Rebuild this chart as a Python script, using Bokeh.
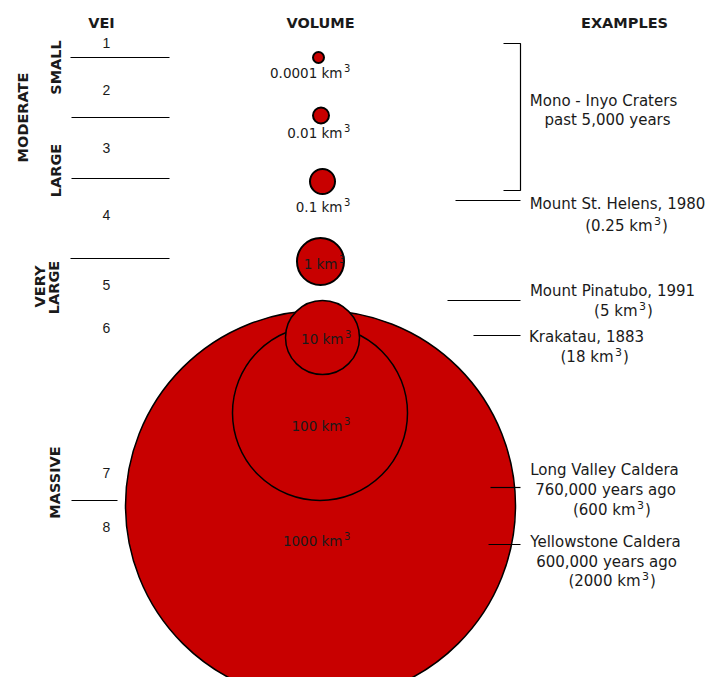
import math
from bokeh.plotting import figure
from bokeh.models import Range1d
from bokeh.core.properties import value
from bokeh.embed import file_html
from bokeh.resources import INLINE

# ---------------- data ----------------
vei_levels = ["1", "2", "3", "4", "5", "6", "7", "8"]
size_classes = ["SMALL", "LARGE", "VERY", "LARGE", "MASSIVE"]
group_label = "MODERATE"
headers = ["VEI", "VOLUME", "EXAMPLES"]

volumes_km3 = [0.0001, 0.01, 0.1, 1, 10, 100, 1000]
volume_text = ["0.0001", "0.01", "0.1", "1", "10", "100", "1000"]

example_lines = [
    ["Mono - Inyo Craters", "past 5,000 years"],
    ["Mount St. Helens, 1980"],
    ["Mount Pinatubo, 1991"],
    ["Krakatau, 1883"],
    ["Long Valley Caldera", "760,000 years ago"],
    ["Yellowstone Caldera", "600,000 years ago"],
]
example_volumes = ["0.25", "5", "18", "600", "2000"]   # km3, for examples 2..6

# ---------------- layout (diagram units = pixels of the drawing) ----------------
W, H = 709, 677
circle_x = [318, 320.5, 322, 320, 322, 319.5, 320]
circle_y = [57, 115, 181, 261, 337, 412.5, 505]
circle_r = [5.5, 8, 12.5, 23.5, 37, 87.5, 195]
label_end_x = [342, 342, 342, 337, 343, 342, 342]
label_y = [72, 132, 206, 263, 338, 425, 540]

vei_x = 106
vei_y = [42, 89, 147, 214, 284, 327.5, 472, 526]

class_x = [55, 55, 39, 53, 54]
class_y = [67, 170, 286, 287, 482]
group_x, group_y = 22.5, 117

header_x = [101, 320, 624]
header_y = 22

ex_cx = [[603, 607], [617], [612], [586], [604, 605], [605, 606]]
ex_y = [[100.5, 119.5], [203.5], [290], [336], [469, 489], [541, 561]]
exv_end_x = [652, 637, 613, 635, 640]
exv_y = [225, 310, 356, 509, 580]

sep_x0 = [70, 71, 71, 70, 71]
sep_x1 = [169, 169, 169, 169, 117]
sep_y = [57, 117, 178, 258, 500]

lead_x0 = [455, 447, 473, 490, 488]
lead_x1 = [520, 520, 520, 520, 520]
lead_y = [200, 300, 335, 487, 544]
bracket_xs = [503, 520, 520, 503]
bracket_ys = [43, 43, 190, 190]

RED = "#C80000"
INK = "#1a1a1a"
FONT = value("DejaVu Sans")

p = figure(width=W, height=H, output_backend="svg", toolbar_location=None,
           x_range=Range1d(0, W), y_range=Range1d(H, 0),
           min_border=0, outline_line_color=None, background_fill_color="white")
p.axis.visible = False
p.grid.visible = False

# circles: biggest first
order = sorted(range(len(volumes_km3)), key=lambda i: -volumes_km3[i])
for i in order:
    lw = 1.5 if circle_r[i] > 30 else 2
    p.circle(x=[circle_x[i]], y=[circle_y[i]], radius=circle_r[i],
             fill_color=RED, line_color="black", line_width=lw)

p.text(x=label_end_x, y=label_y, text=[v + " km" for v in volume_text], text_font=FONT,
       text_font_size="13.5px", text_align="right", text_baseline="middle",
       text_color=INK)
p.text(x=[x + 1.5 for x in label_end_x], y=[y - 5 for y in label_y], text=["3"] * len(volume_text),
       text_font=FONT, text_font_size="10px", text_align="left",
       text_baseline="middle", text_color=INK)

# headers
p.text(x=header_x, y=[header_y] * 3, text=headers, text_font=FONT,
       text_font_size="14.5px", text_font_style="bold", text_align="center",
       text_baseline="middle", text_color=INK)

# VEI numbers
p.text(x=[vei_x] * len(vei_levels), y=vei_y, text=vei_levels,
       text_font=value("Liberation Sans"), text_font_size="14px",
       text_align="center", text_baseline="middle", text_color=INK)

# separators
p.segment(x0=sep_x0, y0=sep_y, x1=sep_x1, y1=sep_y, line_color="black", line_width=1.2)

# rotated class labels
p.text(x=class_x, y=class_y, text=size_classes, angle=math.pi / 2,
       text_font=FONT, text_font_size="14.5px", text_font_style="bold",
       text_align="center", text_baseline="middle", text_color=INK)
p.text(x=[group_x], y=[group_y], text=[group_label], angle=math.pi / 2,
       text_font=FONT, text_font_size="14.5px", text_font_style="bold",
       text_align="center", text_baseline="middle", text_color=INK)

# examples
xs, ys, ts = [], [], []
for cxs, lines, yy in zip(ex_cx, example_lines, ex_y):
    for cx, t, y in zip(cxs, lines, yy):
        xs.append(cx); ys.append(y); ts.append(t)
p.text(x=xs, y=ys, text=ts, text_font=FONT, text_font_size="15px",
       text_align="center", text_baseline="middle", text_color=INK)

p.text(x=exv_end_x, y=exv_y, text=["(" + v + " km" for v in example_volumes],
       text_font=FONT, text_font_size="15px", text_align="right",
       text_baseline="middle", text_color=INK)
p.text(x=[x + 1.5 for x in exv_end_x], y=[y - 5 for y in exv_y], text=["3"] * len(exv_y),
       text_font=FONT, text_font_size="11px", text_align="left",
       text_baseline="middle", text_color=INK)
p.text(x=[x + 9.5 for x in exv_end_x], y=exv_y, text=[")"] * len(exv_y),
       text_font=FONT, text_font_size="15px", text_align="left",
       text_baseline="middle", text_color=INK)

p.segment(x0=lead_x0, y0=lead_y, x1=lead_x1, y1=lead_y, line_color="black", line_width=1.2)
p.line(x=bracket_xs, y=bracket_ys, line_color="black", line_width=1.2)

open("out.html", "w").write(file_html(p, INLINE))
